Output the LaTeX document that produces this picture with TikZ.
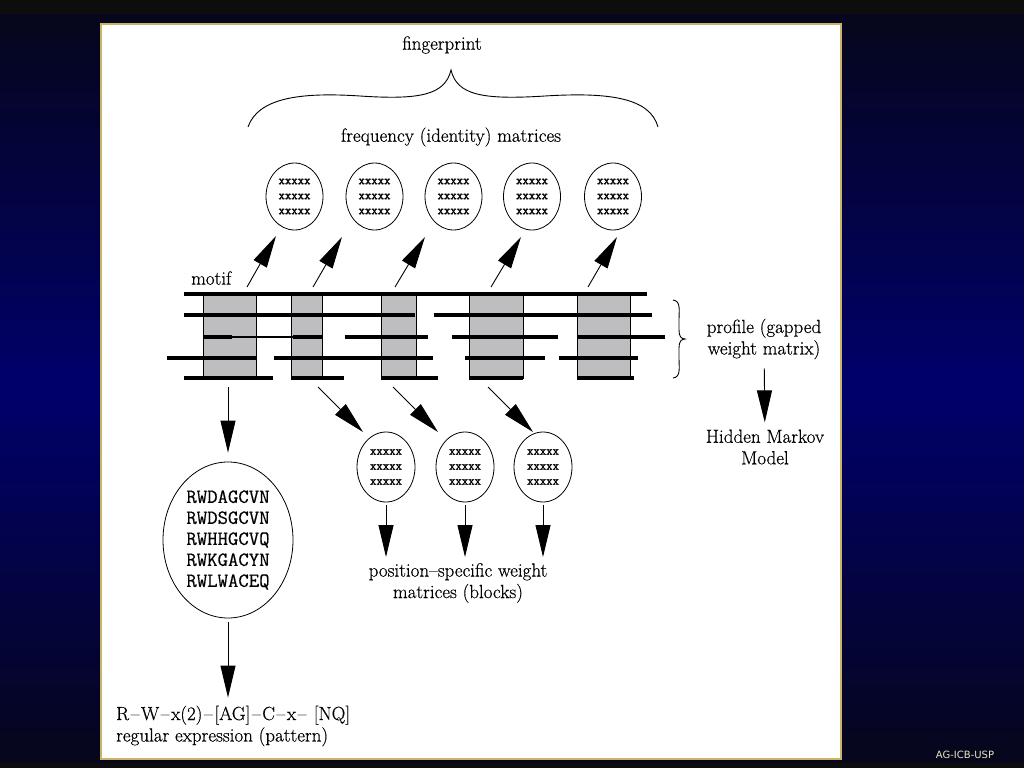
\documentclass[tikz,border=0pt]{standalone}
\usepackage{fontspec}
\setmainfont[FakeBold=0.4]{Latin Modern Roman}
\newfontfamily\sansf{DejaVu Sans}
\newfontfamily\xfont[FakeBold=1.6]{Latin Modern Mono}
\newfontfamily\seqfont[FakeBold=0.5]{Latin Modern Mono}
\usetikzlibrary{arrows.meta,shapes.geometric}
\definecolor{bgtop}{RGB}{6,6,28}
\definecolor{bgmid}{RGB}{0,0,108}
\definecolor{band}{RGB}{13,13,13}
\definecolor{framec}{RGB}{200,180,100}
\definecolor{boxgray}{RGB}{190,190,192}
\definecolor{labelc}{RGB}{232,232,190}
\newcommand{\dsh}{\kern1.6pt--\kern1.6pt}
\begin{document}
\begin{tikzpicture}[x=1pt,y=-1pt,
  lbl/.style={font=\fontsize{19}{21.5}\selectfont, align=center, inner sep=2pt},
  mat/.style={ellipse, draw, line width=0.8pt, minimum width=57pt, minimum height=67pt, inner sep=0pt, font=\xfont\fontsize{12.4}{15}\selectfont, align=center},
  arr/.style={line width=0.9pt, -{Triangle[length=32pt,width=15pt]}},
  seg/.style={line width=3.3pt},
  blk/.style={fill=boxgray, draw, line width=0.8pt},
  bracepath/.style={line width=0.9pt}]
\useasboundingbox (0,0) rectangle (1024,768);
% background
\fill[band] (0,0) rectangle (1024,768);
\shade[top color=bgtop, bottom color=bgtop, middle color=bgmid] (0,15) rectangle (1024,762);
\draw[framec, line width=1.5pt, fill=white] (101,24) rectangle (841,759);
% gray blocks
\draw[blk] (203,294) rectangle (256,378);
\draw[blk] (291,294) rectangle (322,378);
\draw[blk] (381,294) rectangle (416,378);
\draw[blk] (469,294) rectangle (523,378);
\draw[blk] (577,294) rectangle (630,378);
% sequence lines
\draw[seg] (184,294) -- (647,294);
\draw[seg] (184,315) -- (415,315);
\draw[seg] (434,315) -- (652,315);
\draw[seg] (203,337) -- (232,337);
\draw[line width=2.2pt] (232,337) -- (293,337);
\draw[seg] (293,337) -- (322,337);
\draw[seg] (345,337) -- (428,337);
\draw[seg] (452,337) -- (558,337);
\draw[seg] (577,337) -- (665,337);
\draw[seg] (167,358) -- (256,358);
\draw[seg] (274,358) -- (433,358);
\draw[seg] (465,358) -- (545,358);
\draw[seg] (559,358) -- (638,358);
\draw[seg] (184,378) -- (273,378);
\draw[seg] (291,378) -- (344,378);
\draw[seg] (381,378) -- (438,378);
\draw[seg] (469,378) -- (523,378);
\draw[seg] (577,378) -- (634,378);
% texts
\node[lbl] (fp) at (442,45) {fingerprint};
\node[lbl] (freq) at (451,137) {frequency (identity) matrices};
\node[lbl, anchor=west] (motif) at (189,278) {motif};
\node[lbl] (prof) at (764,339) {profile (gapped\\weight matrix)};
\node[lbl] (hmm) at (765,447) {Hidden Markov\\Model};
\node[lbl] (psw) at (458,583) {position--specific weight\\matrices (blocks)};
\node[lbl, align=left, anchor=west] (regex) at (114,726) {R\dsh W\dsh x(2)\dsh [AG]\dsh C\dsh x\dsh\ [NQ]\\regular expression (pattern)};
\node[font=\sansf\fontsize{10}{12}\selectfont, text=labelc] (tag) at (965,755) {AG-ICB-USP};
% frequency matrices
\node[mat] (m1) at (294.5,196.5) {xxxxx\\xxxxx\\xxxxx};
\node[mat] (m2) at (374.5,196.5) {xxxxx\\xxxxx\\xxxxx};
\node[mat] (m3) at (453.5,196.5) {xxxxx\\xxxxx\\xxxxx};
\node[mat] (m4) at (532,196.5) {xxxxx\\xxxxx\\xxxxx};
\node[mat] (m5) at (613,196.5) {xxxxx\\xxxxx\\xxxxx};
% block matrices
\node[mat, minimum width=58pt, minimum height=70pt] (b1) at (386,467) {xxxxx\\xxxxx\\xxxxx};
\node[mat, minimum width=58pt, minimum height=70pt] (b2) at (465,467) {xxxxx\\xxxxx\\xxxxx};
\node[mat, minimum width=58pt, minimum height=70pt] (b3) at (543,467) {xxxxx\\xxxxx\\xxxxx};
% sequences
\node[ellipse, draw, line width=0.8pt, minimum width=130pt, minimum height=156pt, inner sep=0pt, font=\seqfont\fontsize{20.2}{21}\selectfont, align=center] (big) at (228,540) {RWDAGCVN\\RWDSGCVN\\RWHHGCVQ\\RWKGACYN\\RWLWACEQ};
% braces
\draw[bracepath] (248,127) .. controls (258,98) and (300,92) .. (360,96)
  .. controls (420,100) and (445,95) .. (451,70)
  .. controls (457,95) and (482,100) .. (545,96)
  .. controls (610,92) and (650,98) .. (658,127);
\draw[bracepath] (673,300) .. controls (681,301) and (679,310) .. (679,320) -- (679,330)
  .. controls (679,336) and (681,339) .. (685,339)
  .. controls (681,339) and (679,342) .. (679,348) -- (679,358)
  .. controls (679,368) and (681,377) .. (673,378);
% arrow coordinates
\coordinate (t1) at (247,287); \coordinate (h1) at (276,236);
\coordinate (t2) at (313,287); \coordinate (h2) at (342,237);
\coordinate (t3) at (395,287); \coordinate (h3) at (425,237);
\coordinate (t4) at (491,287); \coordinate (h4) at (521,237);
\coordinate (t5) at (588,287); \coordinate (h5) at (617,237);
\coordinate (u1) at (318,387); \coordinate (v1) at (363,432);
\coordinate (u2) at (393,387); \coordinate (v2) at (438,432);
\coordinate (u3) at (488,387); \coordinate (v3) at (533,432);
\coordinate (k1) at (228,387);
\coordinate (dl) at (0,557);
% arrows
\draw[arr] (t1) -- (h1);
\draw[arr] (t2) -- (h2);
\draw[arr] (t3) -- (h3);
\draw[arr] (t4) -- (h4);
\draw[arr] (t5) -- (h5);
\draw[arr] (u1) -- (v1);
\draw[arr] (u2) -- (v2);
\draw[arr] (u3) -- (v3);
\draw[arr, shorten >=9pt] (k1) -- (big.north);
\draw[arr, shorten <=3pt] (b1.south) -- (b1.south |- dl);
\draw[arr, shorten <=3pt] (b2.south) -- (b2.south |- dl);
\draw[arr, shorten <=3pt] (b3.south) -- (b3.south |- dl);
\draw[arr, shorten <=7pt, shorten >=5pt] (prof) -- (hmm);
\draw[arr, shorten <=4pt, shorten >=6pt] (big.south) -- (big.south |- regex.north);
\end{tikzpicture}
\end{document}
